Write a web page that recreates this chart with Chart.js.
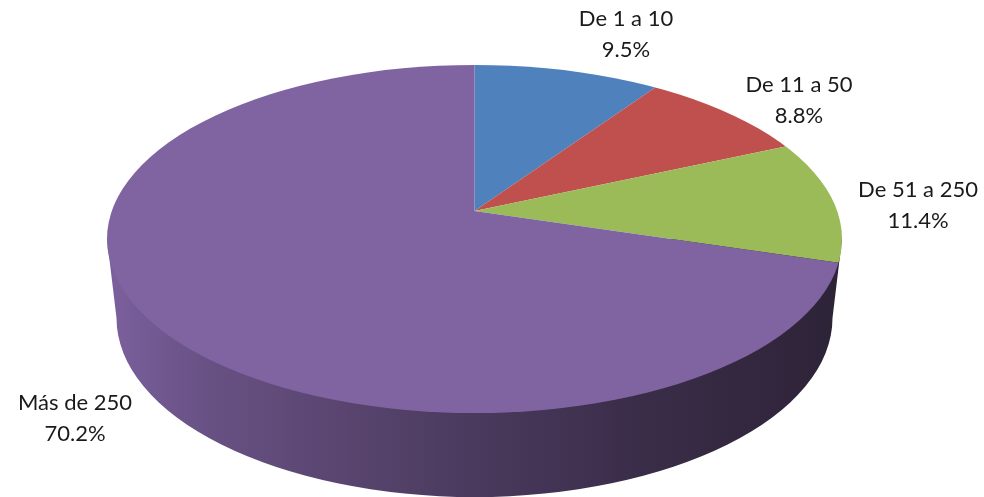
<!DOCTYPE html>
<html>
<head>
<meta charset="utf-8">
<script src="https://cdn.jsdelivr.net/npm/chart.js@4/dist/chart.umd.min.js"></script>
<style>
    html, body { margin: 0; padding: 0; background: #fff; }
    canvas { display: block; }
</style>
</head>
<body>
<canvas id="pie" width="984" height="497"></canvas>
<script>
const categories = ['De 1 a 10', 'De 11 a 50', 'De 51 a 250', 'Más de 250'];
const shares = [9.5, 8.8, 11.4, 70.2];
const sliceColors = ['#4f81bd', '#c0504d', '#9bbb59', '#8064a2'];

// where the text of each slice goes, same order as categories
const labelX = [626, 799, 918, 75];
const labelY = [19, 85, 190, 403];

// the top face is an ellipse, the slices fan out from a point above its middle (perspective)
const face = { x: 474.5, y: 239, rx: 367.5, ry: 174 };
const base = { x: 474.5, y: 318, rx: 358, ry: 179 };
const hub = { x: 474.5, y: 211, squash: 0.465 };

const tiltPlugin = {
    id: 'tilt',
    beforeDatasetsDraw(chart) {
        const ctx = chart.ctx;
        const arc = chart.getDatasetMeta(0).data[0];

        // side wall
        let wall = ctx.createLinearGradient(face.x - face.rx, 0, face.x + face.rx, 0);
        wall.addColorStop(0, '#7c609e');
        wall.addColorStop(0.13, '#685285');
        wall.addColorStop(0.32, '#59456f');
        wall.addColorStop(0.5, '#4a3a5e');
        wall.addColorStop(0.72, '#3a2d49');
        wall.addColorStop(1, '#2d2337');
        ctx.save();
        ctx.beginPath();
        ctx.moveTo(face.x + face.rx, face.y);
        ctx.lineTo(base.x + base.rx, base.y);
        ctx.ellipse(base.x, base.y, base.rx, base.ry, 0, 0, Math.PI);
        ctx.lineTo(face.x - face.rx, face.y);
        ctx.closePath();
        ctx.fillStyle = wall;
        ctx.fill();
        ctx.restore();

        // top face, the library arcs are cut by the ellipse
        ctx.save();
        ctx.beginPath();
        ctx.ellipse(face.x, face.y, face.rx, face.ry, 0, 0, Math.PI * 2);
        ctx.clip();
        ctx.translate(hub.x, hub.y);
        ctx.scale(1, hub.squash);
        ctx.translate(-arc.x, -arc.y);
    },
    afterDatasetsDraw(chart) {
        chart.ctx.restore();
    },
    afterDraw(chart) {
        const ctx = chart.ctx;
        ctx.save();
        ctx.font = '22px Lato';
        ctx.fillStyle = '#1a1a1a';
        ctx.textAlign = 'center';
        ctx.textBaseline = 'middle';
        categories.forEach((name, i) => {
            ctx.fillText(name, labelX[i], labelY[i]);
            ctx.fillText(shares[i].toFixed(1) + '%', labelX[i], labelY[i] + 31);
        });
        ctx.restore();
    }
};

new Chart(document.getElementById('pie').getContext('2d'), {
    type: 'pie',
    data: {
        labels: categories,
        datasets: [{
            data: shares,
            backgroundColor: sliceColors,
            borderWidth: 0,
            clip: false
        }]
    },
    options: {
        responsive: false,
        animation: false,
        radius: 470,
        plugins: {
            legend: { display: false },
            tooltip: { enabled: false }
        }
    },
    plugins: [tiltPlugin]
});
</script>
</body>
</html>
